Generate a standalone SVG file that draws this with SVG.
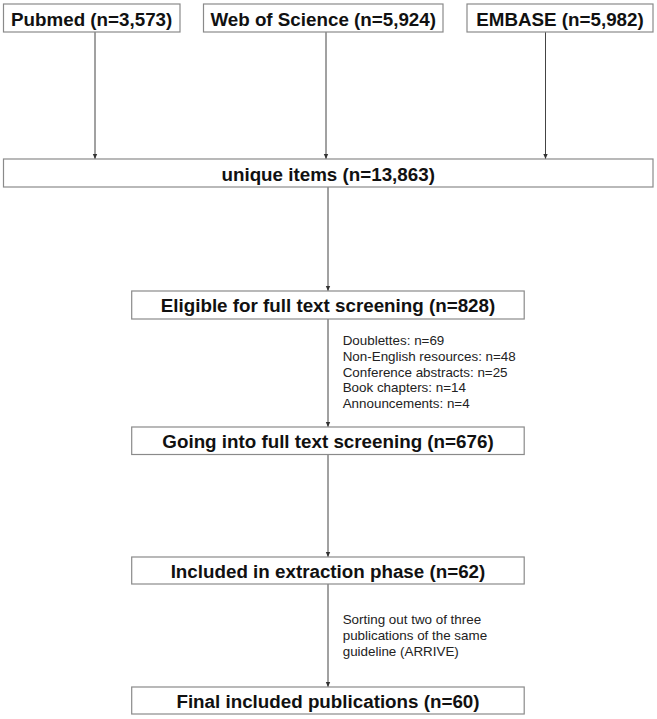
<svg xmlns="http://www.w3.org/2000/svg" width="657" height="719" viewBox="0 0 657 719">
<defs>
<marker id="ah" markerWidth="6" markerHeight="6" refX="5" refY="3" orient="auto" markerUnits="userSpaceOnUse">
<path d="M0,0.8 L5,3 L0,5.2 Z" fill="#333"/>
</marker>
<style>
.box{fill:#fff;stroke:#8a8a8a;stroke-width:1.2}
.t{font-family:"Liberation Sans",Arial,sans-serif;font-weight:bold;font-size:18.8px;fill:#111;text-anchor:middle}
.n{font-family:"Liberation Sans",Arial,sans-serif;font-size:13.4px;fill:#222}
.c{stroke:#444;stroke-width:1;fill:none;marker-end:url(#ah)}
</style>
</defs>
<rect width="657" height="719" fill="#fff"/>
<g id="connectors">
<line class="c" x1="95" y1="32" x2="95" y2="159"/>
<line class="c" x1="326" y1="32" x2="326" y2="159"/>
<line class="c" x1="545.5" y1="32" x2="545.5" y2="159"/>
<line class="c" x1="328" y1="187" x2="328" y2="291"/>
<line class="c" x1="328" y1="319" x2="328" y2="427"/>
<line class="c" x1="328" y1="454" x2="328" y2="557"/>
<line class="c" x1="328" y1="584" x2="328" y2="687"/>
</g>
<g id="pubmed"><rect class="box" x="3.5" y="4" width="176.5" height="28"/><text class="t" x="91.7" y="25.5">Pubmed (n=3,573)</text></g>
<g id="wos"><rect class="box" x="203.5" y="4" width="239.5" height="28"/><text class="t" x="323.2" y="25.5">Web of Science (n=5,924)</text></g>
<g id="embase"><rect class="box" x="467" y="4" width="186" height="28"/><text class="t" x="560" y="25.5">EMBASE (n=5,982)</text></g>
<g id="unique"><rect class="box" x="3.5" y="159" width="649.5" height="28"/><text class="t" x="328.2" y="180.5">unique items (n=13,863)</text></g>
<g id="eligible"><rect class="box" x="131.7" y="291" width="392.5" height="28"/><text class="t" x="328" y="312.3">Eligible for full text screening (n=828)</text></g>
<g id="exclusions"><text class="n" x="342.7" y="345.3">Doublettes: n=69</text><text class="n" x="342.7" y="361">Non-English resources: n=48</text><text class="n" x="342.7" y="376.7">Conference abstracts: n=25</text><text class="n" x="342.7" y="392.4">Book chapters: n=14</text><text class="n" x="342.7" y="408">Announcements: n=4</text></g>
<g id="going"><rect class="box" x="131.7" y="427" width="392.5" height="27.5"/><text class="t" x="328" y="448">Going into full text screening (n=676)</text></g>
<g id="included"><rect class="box" x="131.7" y="557" width="392.5" height="27"/><text class="t" x="328" y="578">Included in extraction phase (n=62)</text></g>
<g id="sorting"><text class="n" x="342.7" y="624.3">Sorting out two of three</text><text class="n" x="342.7" y="640">publications of the same</text><text class="n" x="342.7" y="655.7">guideline (ARRIVE)</text></g>
<g id="final"><rect class="box" x="131.7" y="687" width="392.5" height="27"/><text class="t" x="328" y="708">Final included publications (n=60)</text></g>
</svg>
